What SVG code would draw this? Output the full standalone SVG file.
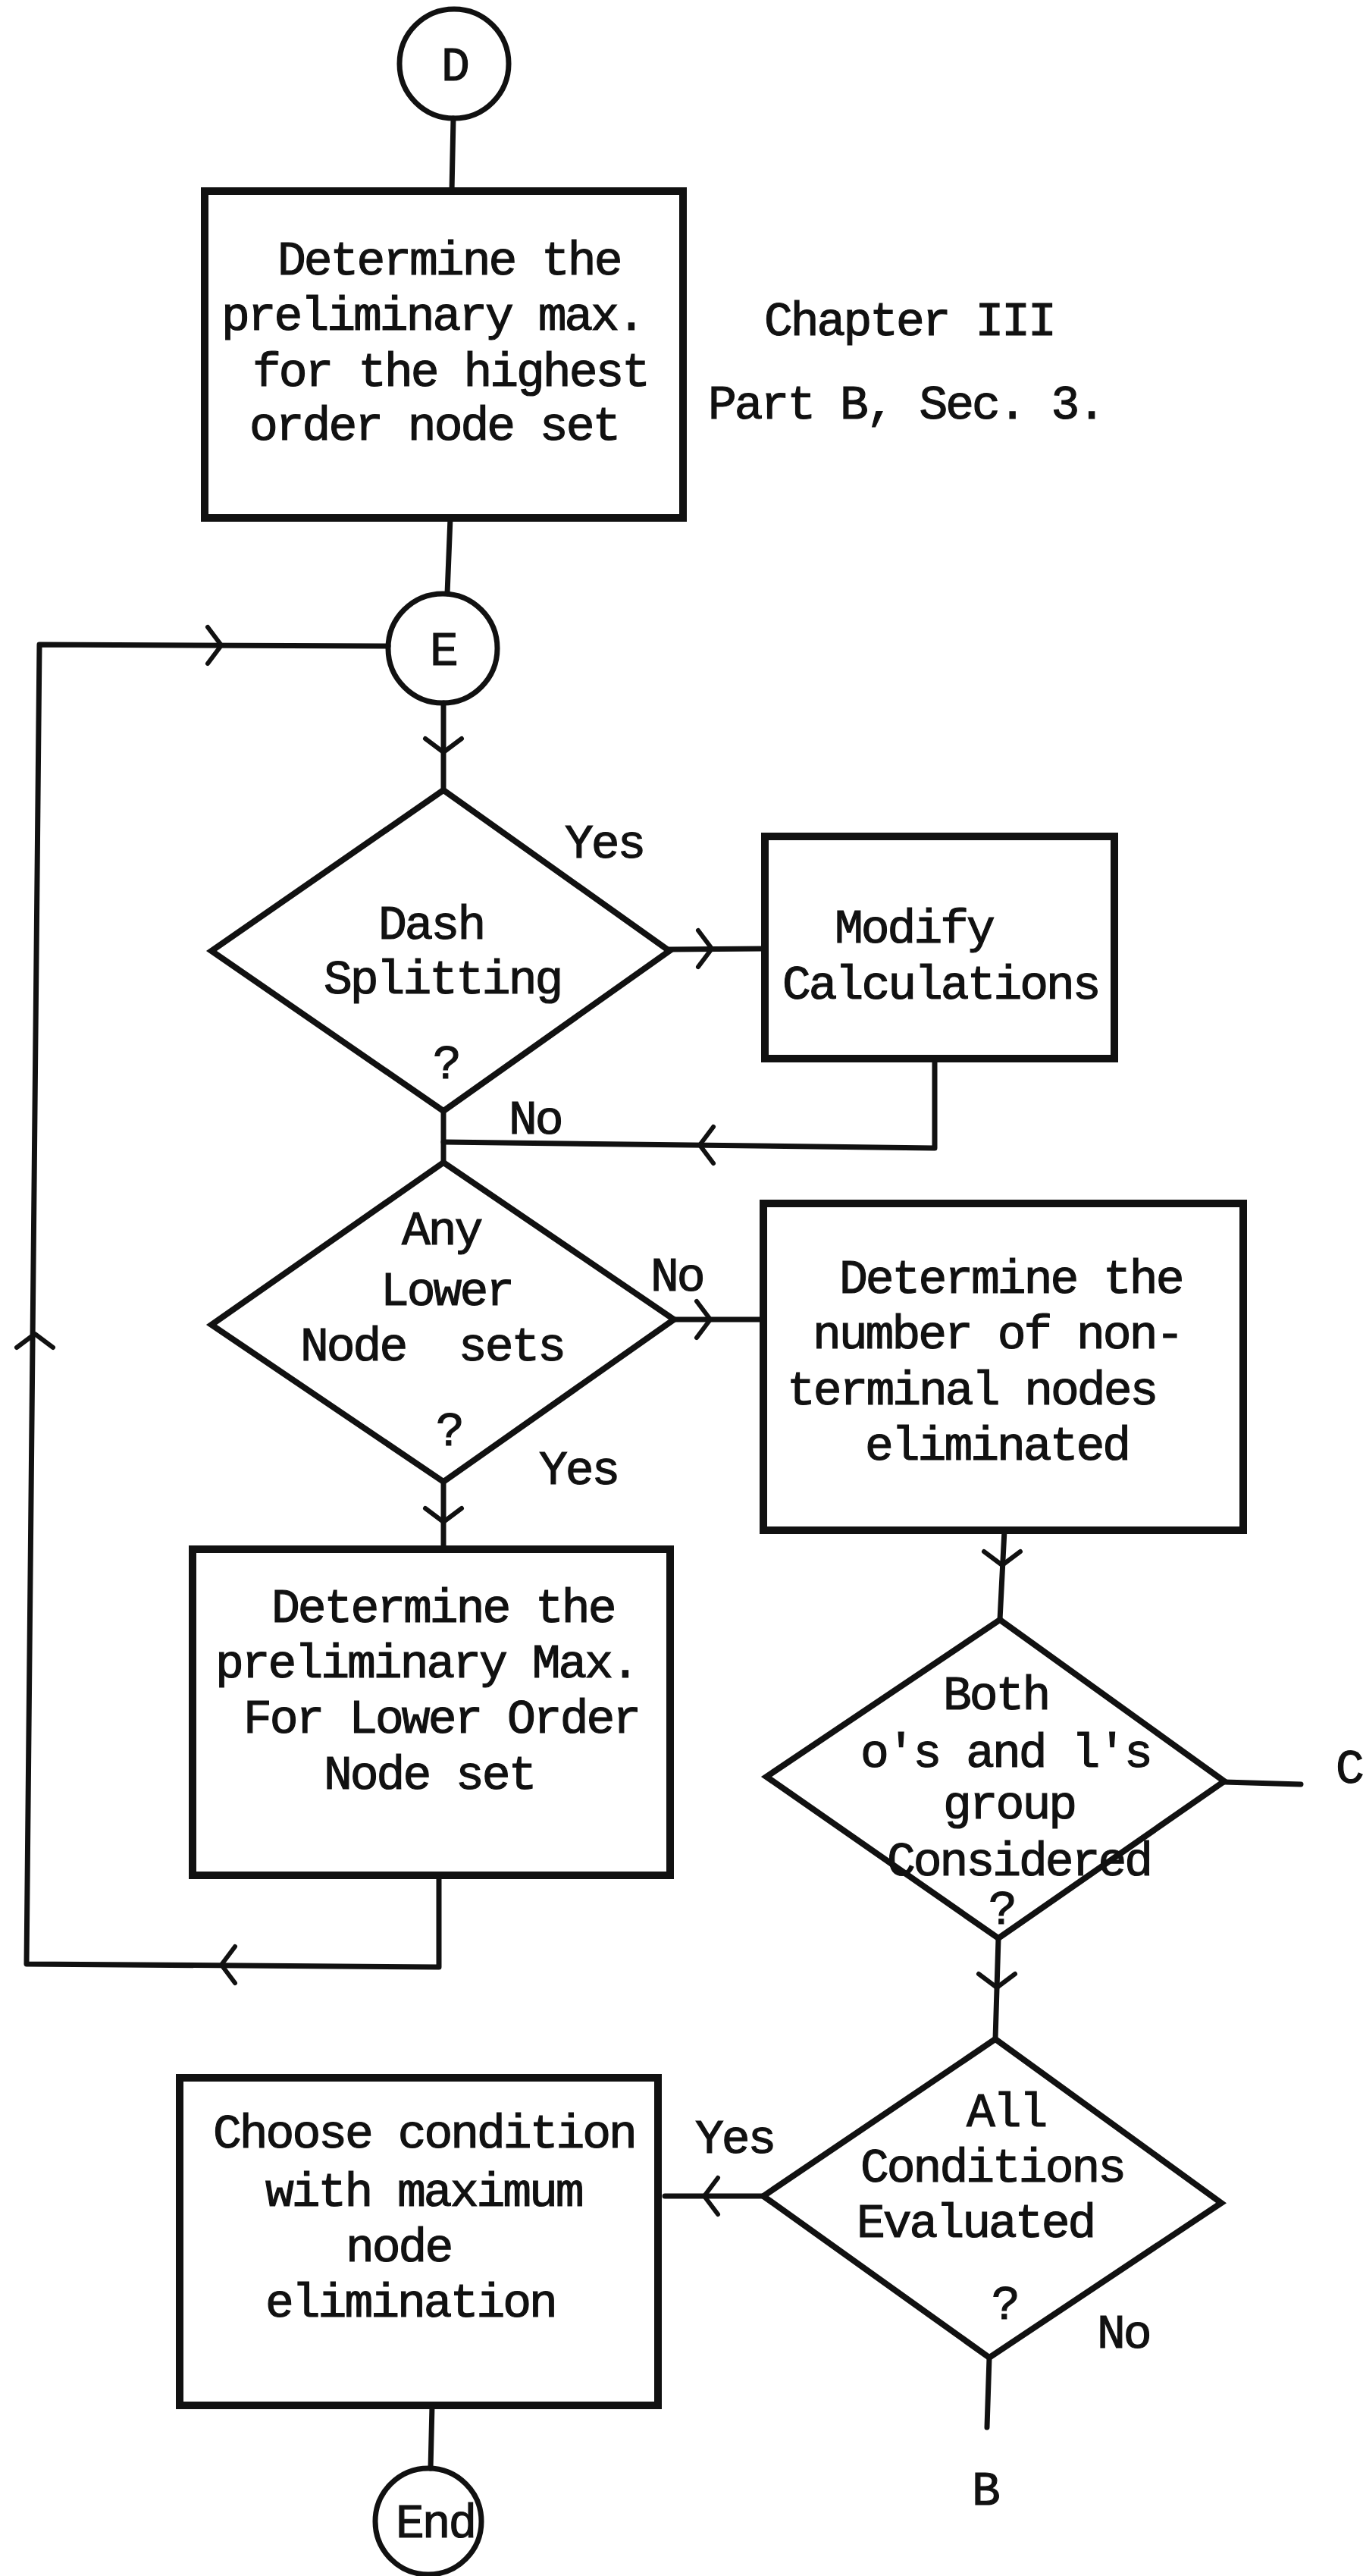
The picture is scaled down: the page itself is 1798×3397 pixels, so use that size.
<svg xmlns="http://www.w3.org/2000/svg" xmlns:xlink="http://www.w3.org/1999/xlink" width="1798" height="3397" viewBox="0 0 1798 3397">
  <style>
    .box { fill: none; stroke: #111; stroke-width: 10; stroke-linejoin: miter; }
    .dia { fill: none; stroke: #111; stroke-width: 8; stroke-linejoin: miter; }
    .conn { fill: none; stroke: #111; stroke-width: 7; stroke-linecap: round; stroke-linejoin: round; }
    .circ { fill: none; stroke: #111; stroke-width: 7; }
    text { font-family: "Liberation Mono", "DejaVu Sans Mono", monospace; font-size: 63px; letter-spacing: -3px; fill: #111; stroke: #111; stroke-width: 1.2px; }
  </style>
  <defs>
    <!-- open chevron arrowhead, pointing along +x -->
    <path id="chev" d="M -18 -24 L 0 0 L -18 24" fill="none" stroke="#111" stroke-width="6" stroke-linecap="round" stroke-linejoin="round"/>
  </defs>

  <rect x="0" y="0" width="1798" height="3397" fill="#fff"/>

  <!-- connectors -->
  <g id="connectors">
    <line class="conn" x1="598" y1="156" x2="596" y2="252"/>
    <line class="conn" x1="594" y1="683" x2="590" y2="783"/>
    <!-- loop back to E -->
    <polyline class="conn" points="579,2473 579,2594 35,2590 52,850 512,852"/>
    <use xlink:href="#chev" transform="translate(292,2591) rotate(180)"/>
    <use xlink:href="#chev" transform="translate(46,1759) rotate(-90)"/>
    <use xlink:href="#chev" transform="translate(292,851)"/>
    <!-- E to Dash Splitting -->
    <line class="conn" x1="585" y1="927" x2="585" y2="1042"/>
    <use xlink:href="#chev" transform="translate(585,992) rotate(90)"/>
    <!-- Yes to Modify -->
    <line class="conn" x1="883" y1="1252" x2="1009" y2="1251"/>
    <use xlink:href="#chev" transform="translate(939,1251)"/>
    <!-- Modify back -->
    <polyline class="conn" points="1233,1396 1233,1514 585,1506"/>
    <use xlink:href="#chev" transform="translate(923,1510) rotate(180)"/>
    <line class="conn" x1="585" y1="1465" x2="585" y2="1533"/>
    <!-- No to Determine number -->
    <line class="conn" x1="889" y1="1740" x2="1007" y2="1740"/>
    <use xlink:href="#chev" transform="translate(937,1740)"/>
    <!-- Yes down -->
    <line class="conn" x1="585" y1="1954" x2="585" y2="2043"/>
    <use xlink:href="#chev" transform="translate(585,2007) rotate(90)"/>
    <!-- number box to Both -->
    <line class="conn" x1="1325" y1="2018" x2="1319" y2="2136"/>
    <use xlink:href="#chev" transform="translate(1322,2064) rotate(90)"/>
    <!-- to C -->
    <line class="conn" x1="1615" y1="2350" x2="1716" y2="2353"/>
    <!-- Both to All -->
    <line class="conn" x1="1317" y1="2556" x2="1313" y2="2689"/>
    <use xlink:href="#chev" transform="translate(1315,2621) rotate(90)"/>
    <!-- Yes to Choose -->
    <line class="conn" x1="1007" y1="2896" x2="877" y2="2896"/>
    <use xlink:href="#chev" transform="translate(929,2896) rotate(180)"/>
    <!-- No to B -->
    <line class="conn" x1="1305" y1="3109" x2="1302" y2="3201"/>
    <!-- Choose to End -->
    <line class="conn" x1="570" y1="3172" x2="568" y2="3255"/>
  </g>

  <g id="nodeD">
    <circle class="circ" cx="599" cy="84" r="72"/>
    <text x="582" y="106">D</text>
  </g>

  <g id="boxPrelimMax">
    <rect class="box" x="270" y="252" width="631" height="431"/>
    <text x="366" y="362">Determine the</text>
    <text x="292" y="435">preliminary max.</text>
    <text x="333" y="509">for the highest</text>
    <text x="329" y="580">order node set</text>
  </g>

  <g id="caption">
    <text x="1008" y="442">Chapter III</text>
    <text x="934" y="552">Part B, Sec. 3.</text>
  </g>

  <g id="nodeE">
    <circle class="circ" cx="584" cy="855" r="72"/>
    <text x="567" y="877">E</text>
  </g>

  <g id="decDash">
    <polygon class="dia" points="585,1042 883,1254 585,1465 279,1254"/>
    <text x="499" y="1238">Dash</text>
    <text x="427" y="1310">Splitting</text>
    <text x="571" y="1422">?</text>
    <text x="745" y="1131">Yes</text>
    <text x="671" y="1495">No</text>
  </g>

  <g id="boxModify">
    <rect class="box" x="1009" y="1103" width="461" height="293"/>
    <text x="1101" y="1243">Modify</text>
    <text x="1032" y="1317">Calculations</text>
  </g>

  <g id="decLower">
    <polygon class="dia" points="585,1533 889,1740 585,1954 279,1747"/>
    <text x="530" y="1641">Any</text>
    <text x="502" y="1721">Lower</text>
    <text x="396" y="1794" xml:space="preserve">Node  sets</text>
    <text x="575" y="1906">?</text>
    <text x="858" y="1702">No</text>
    <text x="711" y="1957">Yes</text>
  </g>

  <g id="boxNumber">
    <rect class="box" x="1007" y="1587" width="633" height="431"/>
    <text x="1107" y="1705">Determine the</text>
    <text x="1072" y="1778">number of non-</text>
    <text x="1038" y="1852">terminal nodes</text>
    <text x="1141" y="1925">eliminated</text>
  </g>

  <g id="boxLowerMax">
    <rect class="box" x="254" y="2043" width="630" height="430"/>
    <text x="358" y="2139">Determine the</text>
    <text x="284" y="2212">preliminary Max.</text>
    <text x="321" y="2285">For Lower Order</text>
    <text x="427" y="2359">Node set</text>
  </g>

  <g id="decBoth">
    <polygon class="dia" points="1319,2136 1615,2349 1317,2556 1011,2343"/>
    <text x="1244" y="2254">Both</text>
    <text x="1135" y="2330">o's and l's</text>
    <text x="1244" y="2398">group</text>
    <text x="1170" y="2473">Considered</text>
    <text x="1304" y="2537">?</text>
  </g>

  <g id="labelC">
    <text x="1762" y="2351">C</text>
  </g>

  <g id="decAll">
    <polygon class="dia" points="1313,2689 1611,2905 1305,3109 1007,2896"/>
    <text x="1275" y="2804">All</text>
    <text x="1135" y="2877">Conditions</text>
    <text x="1130" y="2950">Evaluated</text>
    <text x="1308" y="3058">?</text>
    <text x="917" y="2839">Yes</text>
    <text x="1447" y="3096">No</text>
  </g>

  <g id="boxChoose">
    <rect class="box" x="237" y="2740" width="631" height="432"/>
    <text x="281" y="2832">Choose condition</text>
    <text x="350" y="2909">with maximum</text>
    <text x="456" y="2982">node</text>
    <text x="350" y="3055">elimination</text>
  </g>

  <g id="labelB">
    <text x="1282" y="3303">B</text>
  </g>

  <g id="nodeEnd">
    <circle class="circ" cx="565" cy="3325" r="70"/>
    <text x="522" y="3346">End</text>
  </g>
</svg>
